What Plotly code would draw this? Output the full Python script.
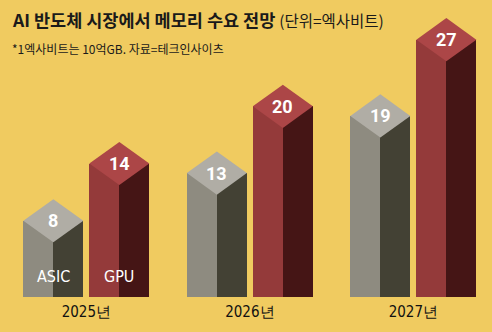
import plotly.graph_objects as go

# ---- data ----
years = ["2025년", "2026년", "2027년"]
series_names = ["ASIC", "GPU"]
asic_values = [8, 13, 19]
gpu_values = [14, 20, 27]

title_main = "AI 반도체 시장에서 메모리 수요 전망"
title_unit = "(단위=엑사비트)"
subtitle = "*1엑사비트는 10억GB. 자료=테크인사이츠"

# ---- style ----
BG = "#F0CB60"
COLORS = {
    "ASIC": {"left": "#8E8B80", "right": "#434134", "top": "#B0ADA5"},
    "GPU": {"left": "#943A3A", "right": "#451515", "top": "#AC4647"},
}
NARROW = "DejaVu Sans Condensed, Liberation Sans, sans-serif"
OFFSET = 0.2018      # bar centre offset from group centre (axis units)
HALF_W = 0.1835      # half bar width (axis units)
DIAMOND = 2.26       # half-height of the top face (value units)

fig = go.Figure()

for s_idx, (name, vals) in enumerate(zip(series_names, [asic_values, gpu_values])):
    sign = -1 if s_idx == 0 else 1
    centres = [i + sign * OFFSET for i in range(len(years))]
    col = COLORS[name]
    # left (lit) face
    fig.add_trace(go.Bar(
        x=[c - HALF_W / 2 for c in centres], y=vals, width=[HALF_W] * len(vals),
        marker=dict(color=col["left"], line=dict(width=0)), showlegend=False,
        hoverinfo="skip"))
    # right (shaded) face
    fig.add_trace(go.Bar(
        x=[c + HALF_W / 2 for c in centres], y=vals, width=[HALF_W] * len(vals),
        marker=dict(color=col["right"], line=dict(width=0)), showlegend=False,
        hoverinfo="skip"))
    # top face
    for c, v in zip(centres, vals):
        fig.add_trace(go.Scatter(
            x=[c - HALF_W, c, c + HALF_W, c, c - HALF_W],
            y=[v, v + DIAMOND, v, v - DIAMOND, v],
            fill="toself", fillcolor=col["top"], mode="lines",
            line=dict(width=0, color=col["top"]), showlegend=False,
            hoverinfo="skip"))
        fig.add_annotation(x=c, y=v, text=str(v), showarrow=False,
                           font=dict(family="Roboto", size=18, color="white", weight="bold"),
                           xanchor="center", yanchor="middle")
    # series label inside the first group's bar
    fig.add_annotation(x=centres[0], y=2.1, text=name, showarrow=False,
                       font=dict(family=NARROW, size=16, color="white"),
                       xanchor="center", yanchor="middle")

fig.add_annotation(
    xref="paper", yref="paper", x=0.0203, y=(297 - 19) / 297,
    text=f"<b>{title_main}</b> <span style='font-size:15.5px;font-weight:normal'>{title_unit}</span>",
    showarrow=False, xanchor="left", yanchor="middle", align="left",
    font=dict(family="Noto Sans CJK KR", size=17.5, color="#1A1A1A"))
fig.add_annotation(
    xref="paper", yref="paper", x=0.0203, y=(297 - 48) / 297,
    text=subtitle, showarrow=False, xanchor="left", yanchor="middle", align="left",
    font=dict(family="Noto Sans CJK KR", size=12, color="#1A1A1A"))

fig.update_layout(
    width=492, height=332,
    margin=dict(l=0, r=0, t=0, b=35),
    paper_bgcolor=BG, plot_bgcolor=BG,
    barmode="overlay", bargap=0,
    xaxis=dict(range=[-0.528, 2.481], tickvals=[0, 1, 2], ticktext=years,
               showgrid=False, zeroline=False, showline=False, ticks="",
               ticklabelstandoff=4,
               tickfont=dict(family=NARROW, size=15, color="#111111"),
               fixedrange=True),
    yaxis=dict(range=[0, 31.16], visible=False, fixedrange=True),
)

fig.write_html("out.html")
